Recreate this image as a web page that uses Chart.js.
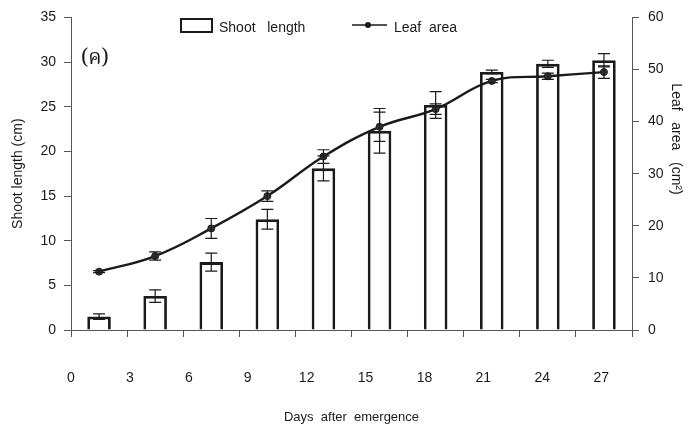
<!DOCTYPE html>
<html>
<head>
<meta charset="utf-8">
<script src="https://cdn.jsdelivr.net/npm/chart.js@4/dist/chart.umd.min.js"></script>
<style>
  html, body { margin: 0; padding: 0; background: #fff; }
  #wrap { width: 690px; height: 431px; }
</style>
</head>
<body>
<div id="wrap"><canvas id="chart" width="690" height="431"></canvas></div>
<script>
"use strict";

// ── Data ─────────────────────────────────────────────────
const days       = [0, 3, 6, 9, 12, 15, 18, 21, 24, 27];
const shootLen   = [1.5, 3.8, 7.6, 12.4, 18.1, 22.3, 25.2, 28.9, 29.8, 30.2];
const shootErr   = [0.3, 0.7, 1.0, 1.1, 1.4, 2.5, 1.5, 0.2, 0.4, 0.75];
const leafArea   = [11.2, 14.2, 19.5, 25.7, 33.3, 39.0, 42.4, 47.8, 48.7, 49.5];
const leafErr    = [0.2, 0.8, 1.9, 1.0, 1.3, 2.8, 1.0, 0.3, 0.6, 1.2];
const leftTicks  = [0, 5, 10, 15, 20, 25, 30, 35];
const rightTicks = [0, 10, 20, 30, 40, 50, 60];

const FONT = "'Liberation Sans', Arial, sans-serif";
const INK  = "#1a1a1a";
const AXIS = "#555";

// ── Error bars drawn on top of each dataset ──────────────
const errorBars = {
  id: "errorBars",
  afterDatasetsDraw(chart) {
    const ctx = chart.ctx;
    chart.data.datasets.forEach((ds, di) => {
      if (!ds.errors) return;
      const meta = chart.getDatasetMeta(di);
      const ys = chart.scales[meta.yAxisID];
      ctx.save();
      ctx.strokeStyle = INK;
      ctx.lineWidth = 1.2;
      meta.data.forEach((pt, i) => {
        const v = ds.data[i], e = ds.errors[i];
        const top = ys.getPixelForValue(v + e);
        const bot = ys.getPixelForValue(v - e);
        const x = pt.x;
        ctx.beginPath();
        ctx.moveTo(x, top); ctx.lineTo(x, bot);
        ctx.moveTo(x - 6, top); ctx.lineTo(x + 6, top);
        ctx.moveTo(x - 6, bot); ctx.lineTo(x + 6, bot);
        ctx.stroke();
      });
      ctx.restore();
    });
  },
};

// ── Legend, panel letter and right-axis title ────────────
const overlay = {
  id: "overlay",
  afterDraw(chart) {
    const ctx = chart.ctx;
    const [bars, line] = chart.data.datasets;
    ctx.save();
    ctx.fillStyle = INK;
    ctx.font = "14px " + FONT;
    ctx.textBaseline = "middle";

    // bar swatch
    ctx.lineWidth = 2;
    ctx.strokeStyle = INK;
    ctx.strokeRect(181, 19, 31, 13);
    ctx.fillText(bars.label, 219, 28);

    // line swatch
    ctx.lineWidth = 1.5;
    ctx.beginPath();
    ctx.moveTo(352, 25); ctx.lineTo(387, 25);
    ctx.stroke();
    ctx.beginPath();
    ctx.arc(368, 25, 3, 0, Math.PI * 2);
    ctx.fill();
    ctx.fillText(line.label, 394, 28);

    // right axis title (sits above the axis middle in the original)
    ctx.save();
    ctx.translate(676, 139);
    ctx.rotate(Math.PI / 2);
    ctx.textAlign = "center";
    ctx.font = "14px " + FONT;
    ctx.fillText("Leaf   area   (cm²)", 0, 0);
    ctx.restore();

    // panel letter
    ctx.font = "21px 'Noto Serif Thai', 'Noto Sans Thai', 'Liberation Serif', serif";
    ctx.fillText("(ค)", 81, 61);
    ctx.restore();
  },
};

const tickFont = { family: FONT, size: 14 };

new Chart(document.getElementById("chart"), {
  type: "bar",
  data: {
    labels: days,
    datasets: [
      {
        label: "Shoot   length",
        data: shootLen,
        errors: shootErr,
        yAxisID: "y",
        xAxisID: "x",
        backgroundColor: "#fff",
        borderColor: INK,
        borderWidth: 2.8,
        categoryPercentage: 1,
        barPercentage: 0.42,
        order: 2,
      },
      {
        type: "line",
        label: "Leaf  area",
        data: leafArea,
        errors: leafErr,
        yAxisID: "y2",
        xAxisID: "x",
        borderColor: INK,
        borderWidth: 2.4,
        backgroundColor: INK,
        pointRadius: 3.5,
        pointBorderWidth: 1,
        pointBackgroundColor: "#333",
        tension: 0.4,
        fill: false,
        order: 1,
      },
    ],
  },
  options: {
    responsive: false,
    animation: false,
    devicePixelRatio: 1,
    layout: { padding: { top: 15, left: 0, right: 0, bottom: 0 } },
    plugins: {
      legend: { display: false },
      tooltip: { enabled: false },
    },
    scales: {
      x: {
        type: "category",
        position: "bottom",
        offset: true,
        grid: {
          offset: true,
          drawOnChartArea: false,
          tickLength: 7,
          color: AXIS,
        },
        border: { color: AXIS, width: 1 },
        ticks: { display: false },
        afterFit: (s) => { s.height = 7; },
      },
      x2: {
        type: "linear",
        position: "bottom",
        offset: false,
        min: 0,
        max: 28.57,
        grid: { display: false, drawTicks: false, offset: false },
        border: { display: false },
        afterBuildTicks: (s) => { s.ticks = days.map((v) => ({ value: v })); },
        ticks: {
          font: tickFont,
          color: INK,
          padding: 33,
          maxRotation: 0,
          autoSkip: false,
        },
        title: {
          display: true,
          text: "Days  after  emergence",
          font: { family: FONT, size: 13 },
          color: INK,
          padding: { top: 0, bottom: 6 },
        },
        afterFit: (s) => { s.height = 94; },
      },
      y: {
        position: "left",
        min: 0,
        max: 35,
        afterBuildTicks: (s) => { s.ticks = leftTicks.map((v) => ({ value: v })); },
        grid: { drawOnChartArea: false, tickLength: 7, color: AXIS },
        border: { color: AXIS, width: 1 },
        ticks: { font: tickFont, color: INK, padding: 8 },
        title: {
          display: true,
          text: "Shoot length (cm)",
          font: { family: FONT, size: 14 },
          color: INK,
          padding: { top: 10, bottom: 0 },
        },
        afterFit: (s) => { s.width = 71; },
      },
      y2: {
        position: "right",
        min: 0,
        max: 60,
        afterBuildTicks: (s) => { s.ticks = rightTicks.map((v) => ({ value: v })); },
        grid: { drawOnChartArea: false, tickLength: 7, color: AXIS },
        border: { color: AXIS, width: 1 },
        ticks: { font: tickFont, color: INK, padding: 9 },
        afterFit: (s) => { s.width = 58; },
      },
    },
  },
  plugins: [errorBars, overlay],
});
</script>
</body>
</html>
